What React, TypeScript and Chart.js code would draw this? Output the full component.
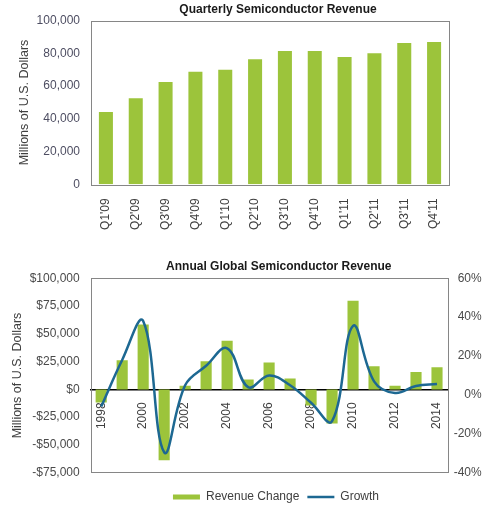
import React, { useEffect, useRef } from 'react';
import { Chart, registerables } from 'chart.js';

Chart.register(...registerables);

// ---------- data ----------
const quarters = ["Q1'09", "Q2'09", "Q3'09", "Q4'09", "Q1'10", "Q2'10", "Q3'10", "Q4'10", "Q1'11", "Q2'11", "Q3'11", "Q4'11"];
const quarterlyRevenue = [44200, 52600, 62500, 68800, 70000, 76400, 81500, 81500, 77800, 80100, 86400, 87000];

const years = ['1998', '1999', '2000', '2001', '2002', '2003', '2004', '2005', '2006', '2007', '2008', '2009', '2010', '2011', '2012', '2013', '2014'];
const revenueChange = [-11700, 26200, 58300, -63800, 3200, 25300, 43800, 8800, 24200, 9800, -14400, -30800, 79900, 20900, 3300, 15700, 19900];
const growthPct = [-6, 18, 38, -29.5, 5, 15, 24, 4, 10, 5, -4, -13.5, 35.5, 7, 1, 4.6, 5.6];

const topTitle = 'Quarterly Semiconductor Revenue';
const bottomTitle = 'Annual Global Semiconductor Revenue';
const yAxisTitle = 'Millions of U.S. Dollars';
const seriesNames = ['Revenue Change', 'Growth'];

// ---------- styles ----------
const FONT = "'Liberation Sans', Arial, sans-serif";
const GREEN = '#9cc43b';
const BLUE = '#1d6892';
const TOP_TICK_COLOR = '#4e4e62';
const TICK_COLOR = '#4a4a4a';
const TEXT_COLOR = '#404040';

const plotBox = {
  id: 'plotBox',
  afterDatasetsDraw(chart: any, _args: any, opts: any) {
    const { ctx, chartArea } = chart;
    const { left, top, right, bottom } = chartArea;
    ctx.save();
    ctx.strokeStyle = opts.color || '#868686';
    ctx.lineWidth = opts.width || 1;
    ctx.strokeRect(Math.round(left) + 0.5, Math.round(top) + 0.5, Math.round(right - left), Math.round(bottom - top));
    ctx.restore();
  },
};

const shiftBlocks = {
  id: 'shiftBlocks',
  afterLayout(chart: any, _args: any, opts: any) {
    if (chart.titleBlock && opts.title) chart.titleBlock.left += opts.title;
    if (chart.legend && opts.legend) chart.legend.left += opts.legend;
  },
};

export default function App() {
  const topRef = useRef<HTMLCanvasElement>(null);
  const botRef = useRef<HTMLCanvasElement>(null);

  useEffect(() => {
    Chart.defaults.font.family = FONT;
    Chart.defaults.font.size = 12;

    const top = new Chart(topRef.current!, {
      type: 'bar',
      data: {
        labels: quarters,
        datasets: [
          {
            label: 'Revenue',
            data: quarterlyRevenue,
            backgroundColor: GREEN,
            borderWidth: 0,
            barPercentage: 0.47,
            categoryPercentage: 1,
          },
        ],
      },
      plugins: [plotBox, shiftBlocks],
      options: {
        responsive: false,
        maintainAspectRatio: false,
        animation: false,
        layout: { padding: { left: 0, right: 51, top: 0, bottom: 0 } },
        plugins: {
          legend: { display: false },
          tooltip: { enabled: false },
          title: {
            display: true,
            text: topTitle,
            color: '#1a1a1a',
            font: { size: 12, weight: 'bold', family: FONT },
            padding: { top: 2, bottom: 4.3 },
          },
          plotBox: { color: '#868686', width: 1 },
          shiftBlocks: { title: 107 },
        } as any,
        scales: {
          x: {
            grid: { display: false, drawTicks: false },
            border: { display: false },
            ticks: {
              minRotation: 90,
              maxRotation: 90,
              padding: 14,
              color: TEXT_COLOR,
              font: { size: 12 },
              autoSkip: false,
            },
            afterFit: (s: any) => {
              s.height = 65.7;
            },
          },
          y: {
            min: 0,
            max: 100000,
            grid: { display: false, drawTicks: false },
            border: { display: false },
            ticks: {
              stepSize: 20000,
              padding: 11,
              color: TOP_TICK_COLOR,
              font: { size: 12 },
              callback: (v: any) => Number(v).toLocaleString('en-US'),
            },
            title: {
              display: true,
              text: yAxisTitle,
              color: TEXT_COLOR,
              font: { size: 12.5 },
              padding: { top: 17, bottom: 0 },
            },
            afterFit: (s: any) => {
              s.width = 91;
            },
          },
        },
      } as any,
    });

    const bot = new Chart(botRef.current!, {
      type: 'bar',
      data: {
        labels: years,
        datasets: [
          {
            type: 'bar',
            label: seriesNames[0],
            data: revenueChange,
            backgroundColor: GREEN,
            borderWidth: 0,
            barPercentage: 0.53,
            categoryPercentage: 1,
            yAxisID: 'y',
            order: 1,
          },
          {
            type: 'line',
            label: seriesNames[1],
            data: growthPct,
            borderColor: BLUE,
            backgroundColor: BLUE,
            borderWidth: 2.5,
            pointRadius: 0,
            tension: 0.4,
            fill: false,
            yAxisID: 'y1',
            order: 0,
          },
        ] as any,
      },
      plugins: [plotBox, shiftBlocks],
      options: {
        responsive: false,
        maintainAspectRatio: false,
        animation: false,
        layout: { padding: { left: 0, right: 18.3, top: 0, bottom: -7 } },
        plugins: {
          tooltip: { enabled: false },
          title: {
            display: true,
            text: bottomTitle,
            color: '#1a1a1a',
            font: { size: 12, weight: 'bold', family: FONT },
            padding: { top: 9.5, bottom: 4.4 },
          },
          legend: {
            display: true,
            position: 'bottom',
            title: { display: true, text: '', font: { size: 1 }, padding: { top: 9.1, bottom: 0 } },
            labels: {
              usePointStyle: true,
              pointStyleWidth: 27,
              boxHeight: 5,
              padding: 8,
              color: TEXT_COLOR,
              font: { size: 12 },
              generateLabels: () => [
                {
                  text: seriesNames[0],
                  fillStyle: GREEN,
                  strokeStyle: GREEN,
                  lineWidth: 0,
                  pointStyle: 'rect',
                  hidden: false,
                  datasetIndex: 0,
                  fontColor: TEXT_COLOR,
                },
                {
                  text: seriesNames[1],
                  fillStyle: BLUE,
                  strokeStyle: BLUE,
                  lineWidth: 2.5,
                  pointStyle: 'line',
                  hidden: false,
                  datasetIndex: 1,
                  fontColor: TEXT_COLOR,
                },
              ],
            },
          },
          plotBox: { color: '#868686', width: 1 },
          shiftBlocks: { title: 75.9, legend: 70.3 },
        } as any,
        scales: {
          x: {
            position: { y: 0 },
            grid: { display: false, drawTicks: false },
            border: { display: true, color: '#000000', width: 1.5 },
            ticks: {
              minRotation: 90,
              maxRotation: 90,
              padding: 13,
              autoSkip: false,
              color: TEXT_COLOR,
              font: { size: 12 },
              callback: (_v: any, i: number) => (i % 2 === 0 ? years[i] : ''),
            },
            afterFit: (s: any) => {
              s.height = 0;
            },
          },
          y: {
            position: 'left',
            min: -75000,
            max: 100000,
            grid: { display: false, drawTicks: false },
            border: { display: false },
            ticks: {
              stepSize: 25000,
              padding: 11,
              color: TICK_COLOR,
              font: { size: 12 },
              callback: (v: any) => {
                const n = Number(v);
                const s = '$' + Math.abs(n).toLocaleString('en-US');
                return n < 0 ? '-' + s : s;
              },
            },
            title: {
              display: true,
              text: yAxisTitle,
              color: TEXT_COLOR,
              font: { size: 12.5 },
              padding: { top: 10, bottom: 0 },
            },
            afterFit: (s: any) => {
              s.width = 90.7;
            },
          },
          y1: {
            position: 'right',
            min: -40,
            max: 60,
            grid: { display: false, drawTicks: false },
            border: { display: false },
            ticks: {
              stepSize: 20,
              padding: 6,
              crossAlign: 'far',
              color: TICK_COLOR,
              font: { size: 12 },
              callback: (v: any) => v + '%',
            },
            afterFit: (s: any) => {
              s.width = 34.2;
            },
          },
        },
      } as any,
    });

    return () => {
      top.destroy();
      bot.destroy();
    };
  }, []);

  return (
    <div style={{ position: 'absolute', left: 0, top: 0, width: 500, height: 506, background: '#ffffff' }}>
      <canvas ref={topRef} width={500} height={250} style={{ display: 'block' }} />
      <canvas ref={botRef} width={500} height={256} style={{ display: 'block' }} />
    </div>
  );
}
